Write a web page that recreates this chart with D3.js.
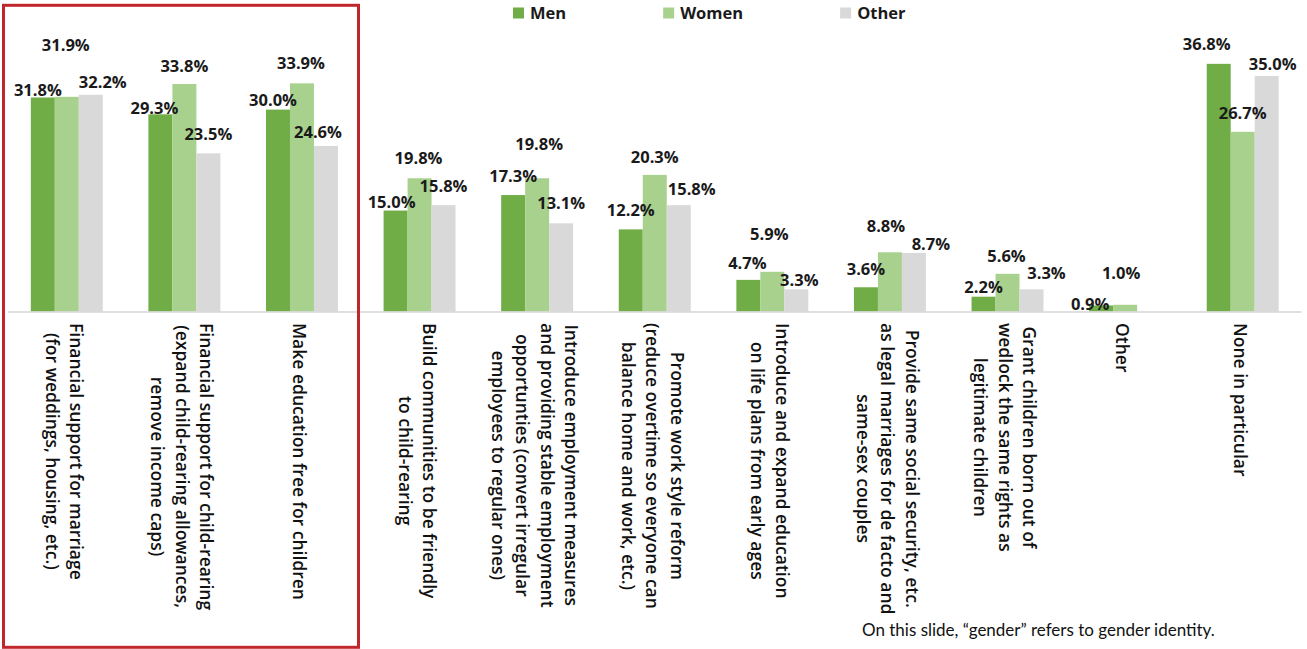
<!DOCTYPE html>
<html>
<head>
<meta charset="utf-8">
<script src="https://cdn.jsdelivr.net/npm/d3@7"></script>
<style>
  html, body { margin: 0; padding: 0; background: #fff; }
  svg { display: block; }
</style>
</head>
<body>
<svg id="chart" width="1307" height="649"></svg>
<script>
// Survey answers: measures wanted, split by gender identity (%).
const categories = [
  ["Financial support for marriage", "(for weddings, housing, etc.)"],
  ["Financial support for child-rearing", "(expand child-rearing allowances,", "remove income caps)"],
  ["Make education free for children"],
  ["Build communities to be friendly", "to child-rearing"],
  ["Introduce employment measures", "and providing stable employment", "opportunties (convert irregular", "employees to regular ones)"],
  ["Promote work style reform", "(reduce overtime so everyone can", "balance home and work, etc.)"],
  ["Introduce and expand education", "on life plans from early ages"],
  ["Provide same social security, etc.", "as legal marriages for de facto and", "same-sex couples"],
  ["Grant children born out of", "wedlock the same rights as", "legitimate children"],
  ["Other"],
  ["None in particular"]
];
const seriesNames = ["Men", "Women", "Other"];
const menValues   = [31.8, 29.3, 30.0, 15.0, 17.3, 12.2, 4.7, 3.6, 2.2, 0.9, 36.8];
const womenValues = [31.9, 33.8, 33.9, 19.8, 19.8, 20.3, 5.9, 8.8, 5.6, 1.0, 26.7];
const otherValues = [32.2, 23.5, 24.6, 15.8, 13.1, 15.8, 3.3, 8.7, 3.3, null, 35.0];
const noteText = "On this slide, \u201cgender\u201d refers to gender identity.";

// Hand-placed label nudges [dx, dy] from the top-centre of each bar.
const menLabelNudge = [[-5,-7],[-6,-6],[-5,-10],[-4,-8],[0,-19],[0,-19],[-1,-17],[0,-18],[0,-10],[-11,-1],[-12,-20]];
const womenLabelNudge = [[-1,-52],[0,-18],[-1,-20],[-1,-20],[2,-34],[0,-18],[-3,-38],[-4,-26],[-1,-18],[-4,-32],[0,-19]];
const otherLabelNudge = [[12,-13],[0,-19],[-8,-14],[0,-19],[0,-20],[13,-16],[3,-9],[17,-9],[15,-16],[0,0],[6,-12]];

const seriesValues = [menValues, womenValues, otherValues];
const seriesNudges = [menLabelNudge, womenLabelNudge, otherLabelNudge];
const colors = { Men: "#70ad47", Women: "#a9d18e", Other: "#d9d9d9" };

const svg = d3.select("#chart");
const FONT = "'Open Sans', Lato, sans-serif";
const NOTE_FONT = "Lato, 'Open Sans', sans-serif";
const baseY = 311.5;

const x0 = d3.scaleBand()
  .domain(d3.range(categories.length))
  .range([8, 1301.5])
  .paddingInner(0.388)
  .paddingOuter(0.194);

const x1 = d3.scaleBand()
  .domain(seriesNames)
  .range([0, x0.bandwidth()]);

const y = d3.scaleLinear().domain([0, 40]).range([baseY, baseY - 269.2]);

// Bars
const groups = svg.append("g").selectAll("g")
  .data(categories.map((c, i) => i))
  .join("g")
  .attr("transform", i => `translate(${x0(i)},0)`);

const rows = (i) => seriesNames.map((s, k) => ({ s, k, i, v: seriesValues[k][i] }))
  .filter(d => d.v !== null);

groups.selectAll("rect")
  .data(i => rows(i))
  .join("rect")
  .attr("x", d => x1(d.s))
  .attr("width", x1.bandwidth())
  .attr("y", d => y(d.v))
  .attr("height", d => baseY - y(d.v))
  .attr("fill", d => colors[d.s]);

// Category axis line
svg.append("line")
  .attr("x1", x0.range()[0]).attr("x2", x0.range()[1])
  .attr("y1", baseY + 0.5).attr("y2", baseY + 0.5)
  .attr("stroke", "#d4d4d4").attr("stroke-width", 1.5);

// Value labels
groups.selectAll("text.val")
  .data(i => rows(i))
  .join("text")
  .attr("class", "val")
  .attr("x", d => x1(d.s) + x1.bandwidth() / 2 + seriesNudges[d.k][d.i][0])
  .attr("y", d => y(d.v) + seriesNudges[d.k][d.i][1])
  .attr("dy", "0.36em")
  .attr("text-anchor", "middle")
  .attr("font-family", FONT)
  .attr("font-weight", 700)
  .attr("font-size", 16.5)
  .attr("fill", "#1a1a1a")
  .text(d => d.v.toFixed(1) + "%");

// Rotated, multi-line category labels
const lineH = 24.5;
const labelTop = 323;
categories.forEach((lines, i) => {
  const cx = x0(i) + x0.bandwidth() / 2 - 3.5;
  const g = svg.append("g");
  const t = g.append("text")
    .attr("font-family", FONT)
    .attr("font-size", 17.5)
    .attr("font-weight", 600)
    .attr("fill", "#111")
    .attr("text-anchor", "middle");
  lines.forEach((ln, j) => {
    t.append("tspan")
      .attr("x", 0)
      .attr("y", (j - (lines.length - 1) / 2) * lineH)
      .attr("dy", "0.3em")
      .text(ln);
  });
  let maxLen = 0;
  t.selectAll("tspan").each(function () { maxLen = Math.max(maxLen, this.getComputedTextLength()); });
  g.attr("transform", `translate(${cx},${labelTop + maxLen / 2}) rotate(90)`);
});

// Legend
const legend = svg.append("g");
let lx = 513;
seriesNames.forEach(s => {
  legend.append("rect").attr("x", lx).attr("y", 7.5).attr("width", 11).attr("height", 11).attr("fill", colors[s]);
  const tt = legend.append("text")
    .attr("x", lx + 17).attr("y", 18.5)
    .attr("font-family", FONT).attr("font-weight", 700).attr("font-size", 16.5)
    .attr("fill", "#1a1a1a").text(s);
  lx = lx + 17 + tt.node().getComputedTextLength() + 97;
});

// Highlight frame around the first three measures
svg.append("rect")
  .attr("x", 3.5).attr("y", 5.3)
  .attr("width", 355).attr("height", 642)
  .attr("fill", "none")
  .attr("stroke", "#c0272d").attr("stroke-width", 3);

// Footnote
svg.append("text")
  .attr("x", 862).attr("y", 636)
  .attr("font-family", NOTE_FONT).attr("font-size", 17)
  .attr("fill", "#111")
  .text(noteText);
</script>
</body>
</html>
